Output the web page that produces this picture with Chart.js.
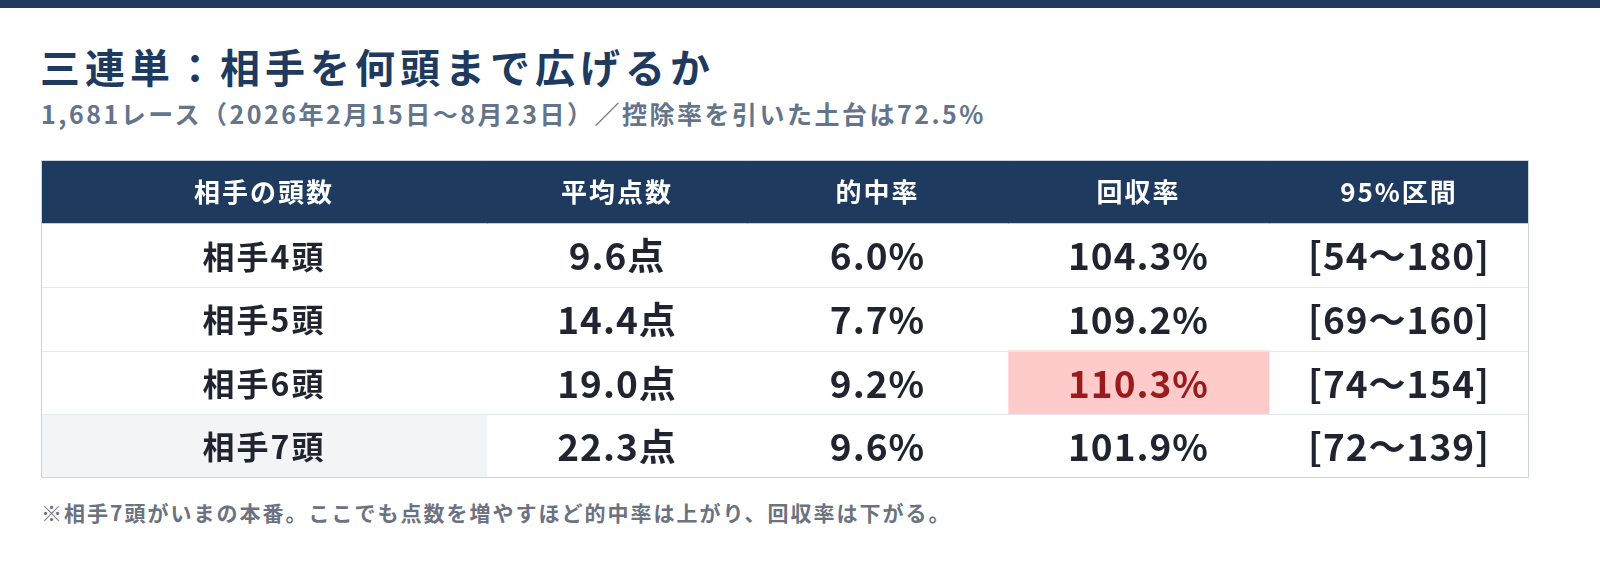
<!DOCTYPE html>
<html><head><meta charset="utf-8">
<script src="https://cdn.jsdelivr.net/npm/chart.js@4"></script>
<style>
html,body{margin:0;padding:0}
body{width:1600px;height:584px;background:#fff;font-family:"Noto Sans CJK JP",sans-serif;position:relative;overflow:hidden}
#bar{position:absolute;left:0;top:0;width:1600px;height:8px;background:#1e3a5f}
#t{position:absolute;left:40px;top:46px;font-size:40px;letter-spacing:5px;font-weight:700;color:#1e3a5f;line-height:1}
#s{position:absolute;left:41px;top:101px;font-size:25px;letter-spacing:2.5px;font-weight:700;color:#64748b;line-height:1}
#n{position:absolute;left:41px;top:502px;font-size:21px;letter-spacing:2px;font-weight:700;color:#6b7280;line-height:1}
#wrap{position:absolute;left:0;top:0;width:1600px;height:584px}
#c{display:block;width:1600px;height:584px}
</style></head><body>
<div id="bar"></div>
<div id="t">三連単：相手を何頭まで広げるか</div>
<div id="s">1,681レース（2026年2月15日～8月23日）／控除率を引いた土台は72.5%</div>
<div id="n">※相手7頭がいまの本番。ここでも点数を増やすほど的中率は上がり、回収率は下がる。</div>
<div id="wrap"><canvas id="c" width="1600" height="584"></canvas></div>
<script>
const headers=["相手の頭数","平均点数","的中率","回収率","95%区間"];
const rowsLabel=["相手4頭","相手5頭","相手6頭","相手7頭"];
const avgPoints=["9.6点","14.4点","19.0点","22.3点"];
const hitRate=["6.0%","7.7%","9.2%","9.6%"];
const returnRate=["104.3%","109.2%","110.3%","101.9%"];
const ci=["[54～180]","[69～160]","[74～154]","[72～139]"];
const colWidths=[446,260,261,261,260];
const highlight={row:2,col:3};

const cats=["h","r0","r1","r2","r3"];
const cols=[rowsLabel,avgPoints,hitRate,returnRate,ci];
let acc=0;const edges=colWidths.map(w=>{const e=[acc,acc+w];acc+=w;return e;});
const datasets=colWidths.map((w,ci_)=>({
 data:cats.map(()=>edges[ci_]),
 backgroundColor:cats.map((c,ri)=>{
  if(ri===0)return"#1e3a5f";
  if(ri-1===highlight.row&&ci_===highlight.col)return"#fecaca";
  if(ri===4&&ci_===0)return"#f3f4f6";
  return"#ffffff";}),
 barPercentage:1,categoryPercentage:1,grouped:false,borderSkipped:false,borderWidth:0
}));
const textPlugin={id:"tx",afterDatasetsDraw(ch){
 const {ctx,scales:{x,y},chartArea:a}=ch;
 ctx.save();
 ctx.strokeStyle="#e2e8f0";ctx.lineWidth=1;
 for(let i=1;i<cats.length-1;i++){
  const yy=(y.getPixelForValue(i)+y.getPixelForValue(i+1))/2;
  ctx.beginPath();ctx.moveTo(a.left,Math.round(yy)+0.5);ctx.lineTo(a.right,Math.round(yy)+0.5);ctx.stroke();}
 ctx.strokeStyle="#cbd5e1";ctx.strokeRect(a.left+0.5,a.top+0.5,a.right-a.left-1,a.bottom-a.top-1);
 ctx.textAlign="center";ctx.textBaseline="middle";
 headers.forEach((h,ci_)=>{
  const cx=x.getPixelForValue((edges[ci_][0]+edges[ci_][1])/2);
  ctx.fillStyle="#fff";ctx.font='700 26px "Noto Sans CJK JP"';ctx.letterSpacing="2px";
  ctx.fillText(h,cx,y.getPixelForValue(0));
  cols[ci_].forEach((v,ri)=>{
   const hl=ri===highlight.row&&ci_===highlight.col;
   ctx.fillStyle=hl?"#991b1b":"#1f2430";
   if(ci_===0){ctx.font='700 32px "Noto Sans CJK JP"';ctx.letterSpacing="2px";}
   else{ctx.font='700 37px "Noto Sans CJK JP"';ctx.letterSpacing="1px";}
   ctx.fillText(v,cx,y.getPixelForValue(ri+1)+1);
  });
 });
 ctx.restore();}};
new Chart(document.getElementById("c"),{
 type:"bar",
 data:{labels:cats,datasets},
 options:{indexAxis:"y",responsive:false,animation:false,devicePixelRatio:1,
  layout:{padding:{left:41,right:71,top:160,bottom:106}},
  plugins:{legend:{display:false},tooltip:{enabled:false}},
  scales:{x:{display:false,min:0,max:acc,stacked:false},y:{display:false}}},
 plugins:[textPlugin]});
</script></body></html>
